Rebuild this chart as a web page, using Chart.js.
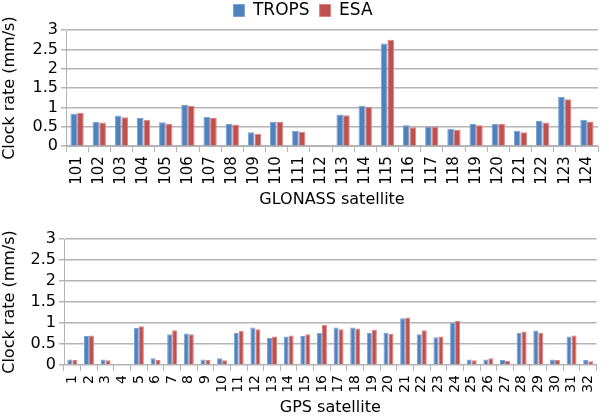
<!DOCTYPE html>
<html lang="en">
<head>
  <meta charset="UTF-8">
  <title>Clock rate</title>
  <script src="https://cdn.jsdelivr.net/npm/chart.js"></script>
  <style>
    body { margin: 0; background: #fff; }
    canvas { display: block; }
  </style>
</head>
<body>
  <canvas id="glonassChart" width="609" height="210"></canvas>
  <canvas id="gpsChart" width="609" height="207"></canvas>

  <script>
    // GLONASS satellites
    const glonassLabels = ['101','102','103','104','105','106','107','108','109','110','111','112',
                           '113','114','115','116','117','118','119','120','121','122','123','124'];
    const glonassTrops = [0.84,0.63,0.79,0.73,0.62,1.06,0.76,0.57,0.36,0.63,0.39,null,
                          0.82,1.04,2.65,0.54,0.50,0.45,0.57,0.58,0.40,0.65,1.27,0.68];
    const glonassEsa   = [0.86,0.61,0.75,0.68,0.58,1.04,0.73,0.56,0.32,0.63,0.37,null,
                          0.80,1.02,2.75,0.49,0.50,0.42,0.54,0.57,0.36,0.61,1.21,0.64];

    // GPS satellites
    const gpsLabels = ['1','2','3','4','5','6','7','8','9','10','11','12','13','14','15','16',
                       '17','18','19','20','21','22','23','24','25','26','27','28','29','30','31','32'];
    const gpsTrops = [0.13,0.69,0.13,null,0.88,0.16,0.73,0.75,0.13,0.16,0.76,0.89,0.64,0.68,0.69,0.77,
                      0.89,0.89,0.77,0.76,1.11,0.73,0.66,1.01,0.13,0.13,0.12,0.77,0.82,0.13,0.68,0.12];
    const gpsEsa   = [0.12,0.70,0.11,null,0.92,0.12,0.83,0.73,0.12,0.11,0.81,0.85,0.68,0.70,0.73,0.95,
                      0.85,0.87,0.84,0.74,1.13,0.83,0.68,1.05,0.11,0.16,0.10,0.80,0.77,0.12,0.70,0.09];

    // y axis: 0 to 3 in steps of 0.5
    const yMin = 0, yMax = 3, yStep = 0.5;

    const FONT = 'DejaVu Sans';
    const gridColor = '#b4b4b4';

    function makeChart(id, labels, trops, esa, xTitle, opts) {
      const ctx = document.getElementById(id).getContext('2d');
      const chart = new Chart(ctx, {
        type: 'bar',
        data: {
          labels: labels,
          datasets: [
            {
              label: 'TROPS',
              data: trops,
              backgroundColor: '#4f81bd',
              borderColor: '#7ba0d2',
              borderWidth: 1,
              categoryPercentage: 0.6,
              barPercentage: 1.0
            },
            {
              label: 'ESA',
              data: esa,
              backgroundColor: '#c0504d',
              borderColor: '#d98280',
              borderWidth: 1,
              categoryPercentage: 0.6,
              barPercentage: 1.0
            }
          ]
        },
        options: {
          responsive: false,
          animation: false,
          layout: { padding: opts.padding },
          plugins: {
            legend: {
              display: opts.legend,
              position: 'top',
              labels: {
                boxWidth: 11,
                boxHeight: 12,
                padding: 10,
                color: '#000',
                font: { family: FONT, size: 17 }
              }
            },
            tooltip: { enabled: false }
          },
          scales: {
            x: {
              grid: {
                offset: true,
                drawOnChartArea: false,
                color: gridColor,
                tickLength: 6
              },
              border: { color: gridColor },
              ticks: {
                minRotation: 90,
                maxRotation: 90,
                autoSkip: false,
                color: '#000',
                padding: 4,
                font: { family: FONT, size: opts.xTickSize }
              },
              title: {
                display: true,
                text: xTitle,
                color: '#000',
                padding: { top: 1, bottom: 0 },
                font: { family: FONT, size: 16 }
              }
            },
            y: {
              min: yMin,
              max: yMax,
              afterFit: s => { s.width = opts.yWidth; },
              grid: {
                color: gridColor,
                lineWidth: 1.5,
                tickLength: 5
              },
              border: { color: gridColor },
              ticks: {
                stepSize: yStep,
                autoSkip: false,
                color: '#000',
                padding: 3,
                callback: v => String(v),
                font: { family: FONT, size: 16 }
              },
              title: {
                display: true,
                text: 'Clock rate (mm/s)',
                color: '#000',
                padding: 0,
                font: { family: FONT, size: 16 }
              }
            }
          }
        }
      });

      // fix the legend block height so the plot top lands where it should
      if (opts.legend && chart.legend) {
        const legend = chart.legend;
        const fit = legend.fit.bind(legend);
        legend.fit = () => {
          fit();
          legend.height = opts.legendH;
          legend.bottom = legend.top + opts.legendH;
        };
        chart.update('none');
      }
      return chart;
    }

    makeChart('glonassChart', glonassLabels, glonassTrops, glonassEsa, 'GLONASS satellite',
      { legend: true, legendH: 38, xTickSize: 15, yWidth: 66,
        padding: { top: -8, right: 3, bottom: 1, left: 0 } });
    makeChart('gpsChart', gpsLabels, gpsTrops, gpsEsa, 'GPS satellite',
      { legend: false, xTickSize: 14, yWidth: 64,
        padding: { top: 29, right: 0, bottom: 0, left: 0 } });
  </script>
</body>
</html>
